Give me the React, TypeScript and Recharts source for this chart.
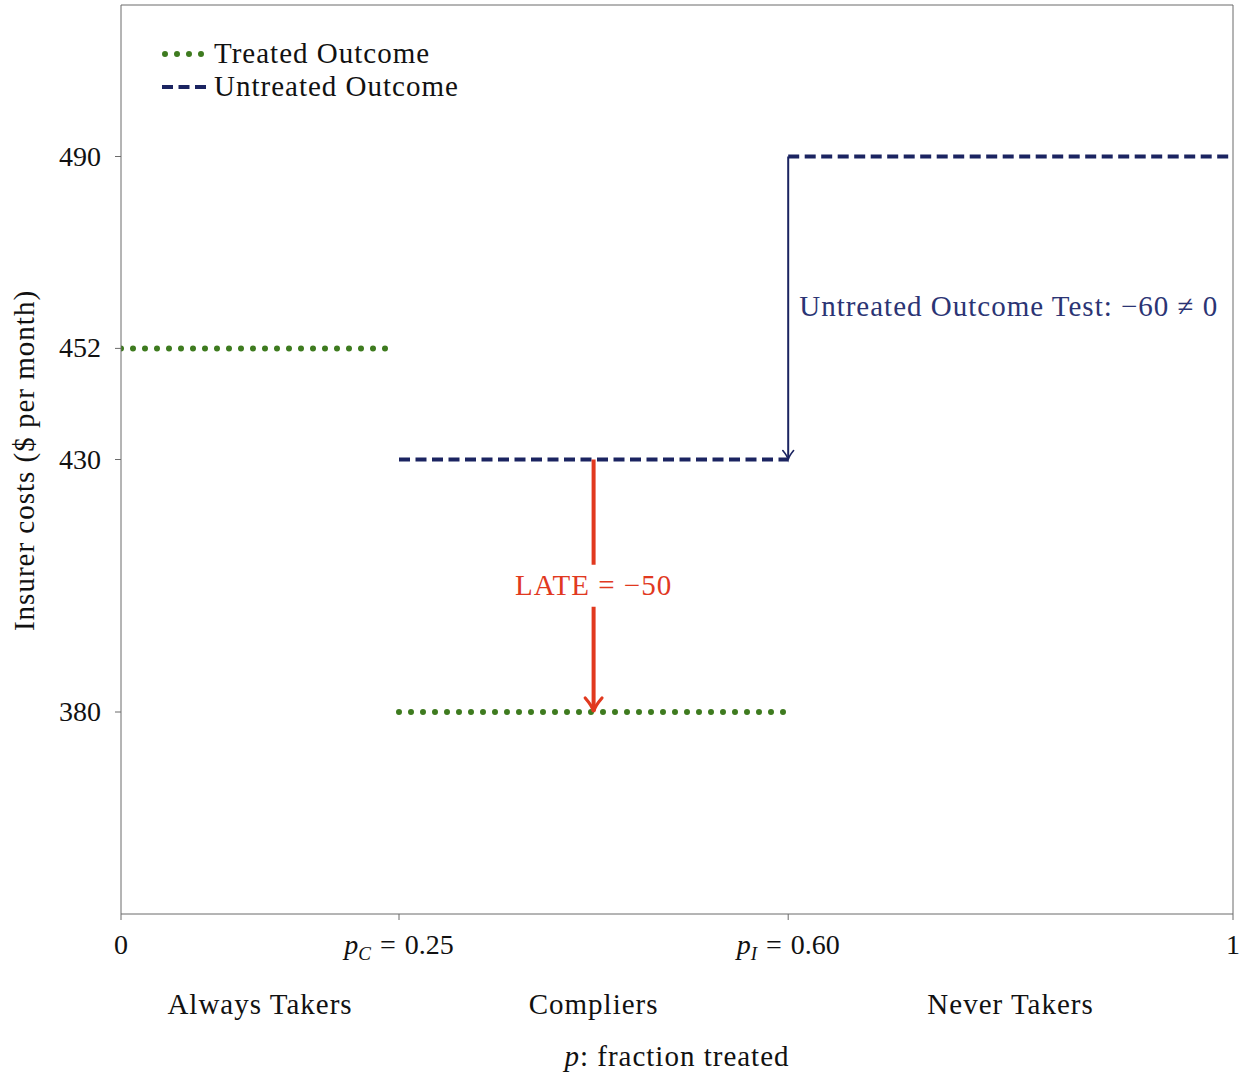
import { ComposedChart, Legend, Line, ReferenceLine, XAxis, YAxis, Label } from 'recharts';

const FONT = '"Liberation Serif", "DejaVu Serif", serif';
const GREEN = '#3e7b1f';
const NAVY = '#1b2461';
const RED = '#e1391f';
const AXIS = '#6b6b6b';
const WORD_SIZE = 29;
const WORD_SPACING = 1;

// x axis: fraction treated
const pBreaks = [0, 0.25, 0.6, 1];
const pSymbols = ['', 'p', 'p', ''];
const pSubs = ['', 'C', 'I', ''];
const pValues = ['0', '0.25', '0.60', '1'];

// population groups (centred in each region)
const groupCenters = [0.125, 0.425, 0.8];
const groupNames = ['Always Takers', 'Compliers', 'Never Takers'];

// y axis: insurer costs
const costTicks = [380, 430, 452, 490];
const costDomain = [340, 520];

// treated outcome segments
const treatedStart = [0, 0.25];
const treatedEnd = [0.2425, 0.6];
const treatedCost = [452, 380];

// untreated outcome segments
const untreatedStart = [0.25, 0.6];
const untreatedEnd = [0.6, 1];
const untreatedCost = [430, 490];

// annotations
const lateP = 0.425;
const lateFrom = 430;
const lateTo = 380;
const lateText = 'LATE = \u221250';

const testP = 0.6;
const testFrom = 490;
const testTo = 430;
const testText = 'Untreated Outcome Test: \u221260 \u2260 0';

const segments = (start: number[], end: number[], cost: number[]) =>
  start.map((s, i) => [
    { p: s, v: cost[i] },
    { p: end[i], v: cost[i] },
  ]);

const treatedData = segments(treatedStart, treatedEnd, treatedCost);
const untreatedData = segments(untreatedStart, untreatedEnd, untreatedCost);
const xTicks = [...pBreaks, ...groupCenters].sort((a, b) => a - b);

// x tick: break values get a tick mark + label, region centres get the group name lower down
const PTick = ({ x, y, payload }: any) => {
  const bi = pBreaks.indexOf(payload.value);
  if (bi < 0) {
    const gi = groupCenters.indexOf(payload.value);
    return (
      <text
        x={x}
        y={y + 92}
        textAnchor="middle"
        fontFamily={FONT}
        fontSize={WORD_SIZE}
        letterSpacing={WORD_SPACING}
        fill="#111"
      >
        {groupNames[gi]}
      </text>
    );
  }
  return (
    <g>
      <line x1={x} y1={y - 8} x2={x} y2={y - 2} stroke={AXIS} strokeWidth={1} />
      <text x={x} y={y + 32} textAnchor="middle" fontFamily={FONT} fontSize={28} fill="#111">
        {pSymbols[bi] ? (
          <>
            <tspan fontStyle="italic">{pSymbols[bi]}</tspan>
            <tspan fontStyle="italic" fontSize={19} dy={6}>
              {pSubs[bi]}
            </tspan>
            <tspan dy={-6} dx={9}>
              =
            </tspan>
            <tspan dx={9}>{pValues[bi]}</tspan>
          </>
        ) : (
          pValues[bi]
        )}
      </text>
    </g>
  );
};

const CostTick = ({ x, y, payload }: any) => (
  <text x={x - 5} y={y + 9} textAnchor="end" fontFamily={FONT} fontSize={28} fill="#111">
    {payload.value}
  </text>
);

const arrowShape =
  (color: string, width: number, head: number, text: string, mode: 'gap' | 'side') =>
  (props: any) => {
    const { x1, y1, x2, y2 } = props;
    const midY = (y1 + y2) / 2;
    return (
      <g>
        <line x1={x1} y1={y1} x2={x2} y2={y2 - 1} stroke={color} strokeWidth={width} />
        <path
          d={`M ${x2 - head * 0.6} ${y2 - head} Q ${x2 - 1} ${y2 - head * 0.4} ${x2} ${y2} Q ${x2 + 1} ${y2 - head * 0.4} ${x2 + head * 0.6} ${y2 - head}`}
          fill="none"
          stroke={color}
          strokeWidth={width * 0.8}
          strokeLinecap="round"
        />
        {mode === 'gap' ? (
          <>
            <rect x={x1 - 6} y={midY - 21} width={12} height={42} fill="#fff" />
            <text
              x={x1}
              y={midY + 9}
              textAnchor="middle"
              fontFamily={FONT}
              fontSize={WORD_SIZE}
              letterSpacing={WORD_SPACING}
              fill={color}
            >
              {text}
            </text>
          </>
        ) : (
          <text
            x={x1 + 11}
            y={midY + 8}
            textAnchor="start"
            fontFamily={FONT}
            fontSize={WORD_SIZE}
            letterSpacing={WORD_SPACING}
            fill="#2b3474"
          >
            {text}
          </text>
        )}
      </g>
    );
  };

const LegendContent = () => (
  <div
    style={{
      fontFamily: FONT,
      fontSize: WORD_SIZE,
      letterSpacing: WORD_SPACING,
      color: '#111',
      lineHeight: '33px',
    }}
  >
    <div style={{ display: 'flex', alignItems: 'center' }}>
      <svg width={48} height={10}>
        <line x1={3} y1={5} x2={44} y2={5} stroke={GREEN} strokeWidth={6} strokeDasharray="0 12" strokeLinecap="round" />
      </svg>
      <span style={{ marginLeft: 4 }}>Treated Outcome</span>
    </div>
    <div style={{ display: 'flex', alignItems: 'center' }}>
      <svg width={48} height={10}>
        <line x1={0} y1={5} x2={46} y2={5} stroke={NAVY} strokeWidth={4} strokeDasharray="11 5.5" />
      </svg>
      <span style={{ marginLeft: 4 }}>Untreated Outcome</span>
    </div>
  </div>
);

export default function App() {
  return (
    <div style={{ position: 'absolute', left: 0, top: 0, background: '#fff' }}>
      <ComposedChart width={1245} height={1073} margin={{ top: 5, right: 12, bottom: 0, left: 0 }}>
        <XAxis
          dataKey="p"
          type="number"
          domain={[0, 1]}
          ticks={xTicks}
          interval={0}
          tick={<PTick />}
          tickLine={false}
          height={159}
          stroke={AXIS}
          tickSize={6}
          allowDataOverflow
        >
          <Label
            content={({ viewBox }: any) => (
              <text
                x={viewBox.x + viewBox.width / 2}
                y={viewBox.y + viewBox.height - 7}
                textAnchor="middle"
                fontFamily={FONT}
                fontSize={WORD_SIZE}
                letterSpacing={WORD_SPACING}
                fill="#111"
              >
                <tspan fontStyle="italic">p</tspan>
                <tspan>: fraction treated</tspan>
              </text>
            )}
          />
        </XAxis>
        <YAxis
          type="number"
          domain={costDomain}
          ticks={costTicks}
          tick={<CostTick />}
          width={121}
          stroke={AXIS}
          tickSize={6}
          tickMargin={9}
          allowDataOverflow
        >
          <Label
            content={({ viewBox }: any) => {
              const cx = 34;
              const cy = viewBox.y + viewBox.height / 2 + 1;
              return (
                <text
                  x={cx}
                  y={cy}
                  transform={`rotate(-90, ${cx}, ${cy})`}
                  textAnchor="middle"
                  fontFamily={FONT}
                  fontSize={WORD_SIZE}
                  letterSpacing={WORD_SPACING}
                  fill="#111"
                >
                  Insurer costs ($ per month)
                </text>
              );
            }}
          />
        </YAxis>
        <ReferenceLine y={costDomain[1]} stroke={AXIS} strokeWidth={1} />
        <ReferenceLine x={1} stroke={AXIS} strokeWidth={1} />

        <ReferenceLine
          segment={[
            { x: testP, y: testFrom },
            { x: testP, y: testTo },
          ]}
          shape={arrowShape(NAVY, 2, 9, testText, 'side')}
        />

        {treatedData.map((d, i) => (
          <Line
            key={'t' + i}
            data={d}
            dataKey="v"
            stroke={GREEN}
            strokeWidth={6}
            strokeDasharray="0 12"
            strokeLinecap="round"
            dot={false}
            activeDot={false}
            isAnimationActive={false}
            legendType="none"
          />
        ))}
        {untreatedData.map((d, i) => (
          <Line
            key={'u' + i}
            data={d}
            dataKey="v"
            stroke={NAVY}
            strokeWidth={4}
            strokeDasharray="11 5.5"
            dot={false}
            activeDot={false}
            isAnimationActive={false}
            legendType="none"
          />
        ))}

        <ReferenceLine
          segment={[
            { x: lateP, y: lateFrom },
            { x: lateP, y: lateTo },
          ]}
          shape={arrowShape(RED, 4, 14, lateText, 'gap')}
        />

        <Legend
          layout="vertical"
          align="center"
          verticalAlign="middle"
          content={<LegendContent />}
          wrapperStyle={{ left: 162, top: 37, width: 'auto', height: 'auto' }}
        />
      </ComposedChart>
    </div>
  );
}
